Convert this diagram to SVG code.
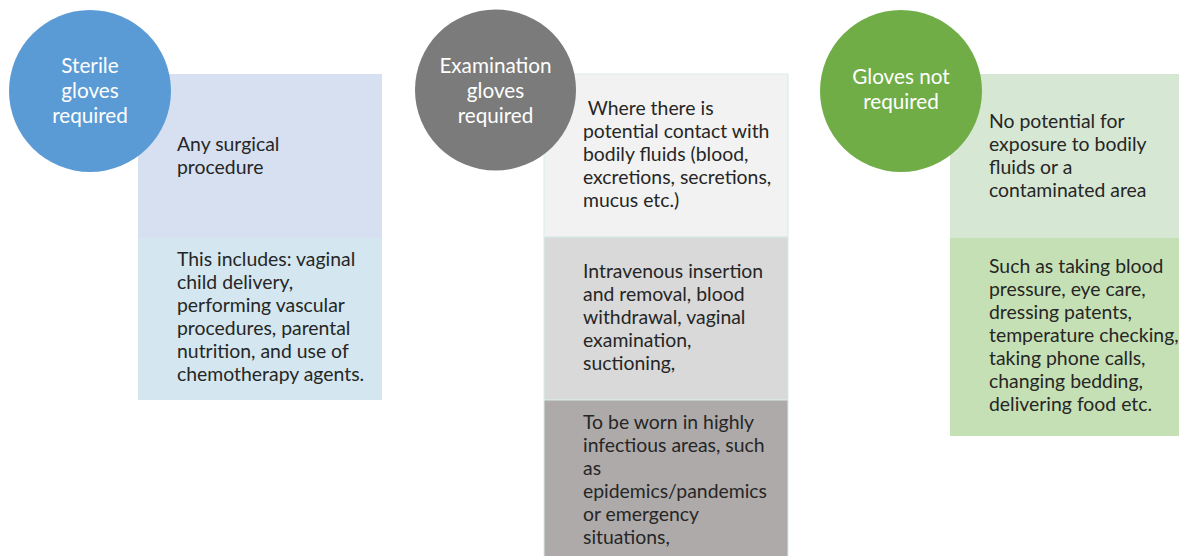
<svg xmlns="http://www.w3.org/2000/svg" width="1179" height="556" viewBox="0 0 1179 556">
<style>
.t{font-family:Lato,"Open Sans","Liberation Sans",sans-serif;font-size:19.4px;fill:#262626}
.c{font-family:Lato,"Open Sans","Liberation Sans",sans-serif;font-size:20.7px;fill:#ffffff;text-anchor:middle}
.ln{stroke:#d5ecea;stroke-width:1}
</style>
<rect width="1179" height="556" fill="#ffffff"/>
<g id="sterile">
<rect x="138" y="74" width="244" height="164" fill="#d6e0f1"/>
<rect x="138" y="238" width="244" height="162" fill="#d4e6ef"/>
<circle cx="90" cy="91" r="81" fill="#5b9bd5"/>
<text class="c"><tspan x="90" y="73">Sterile</tspan><tspan x="90" y="98">gloves</tspan><tspan x="90" y="123">required</tspan></text>
<text class="t"><tspan x="177" y="151">Any surgical</tspan><tspan x="177" y="174">procedure</tspan></text>
<text class="t"><tspan x="177" y="266">This includes: vaginal</tspan><tspan x="177" y="289">child delivery,</tspan><tspan x="177" y="312">performing vascular</tspan><tspan x="177" y="335">procedures, parental</tspan><tspan x="177" y="358">nutrition, and use of</tspan><tspan x="177" y="381">chemotherapy agents.</tspan></text>
</g>
<g id="examination">
<rect x="544" y="74" width="244" height="163" fill="#f2f2f2" class="ln"/>
<rect x="544" y="237" width="244" height="163" fill="#d9d9d9" class="ln"/>
<rect x="544" y="400" width="244" height="160" fill="#aeaaaa" class="ln"/>
<circle cx="495.5" cy="90" r="80.5" fill="#7b7b7b"/>
<text class="c"><tspan x="495.5" y="73">Examination</tspan><tspan x="495.5" y="98">gloves</tspan><tspan x="495.5" y="123">required</tspan></text>
<text class="t" xml:space="preserve"><tspan x="583" y="115"> Where there is</tspan><tspan x="583" y="138">potential contact with</tspan><tspan x="583" y="161">bodily fluids (blood,</tspan><tspan x="583" y="184">excretions, secretions,</tspan><tspan x="583" y="207">mucus etc.)</tspan></text>
<text class="t"><tspan x="583" y="278">Intravenous insertion</tspan><tspan x="583" y="301">and removal, blood</tspan><tspan x="583" y="324">withdrawal, vaginal</tspan><tspan x="583" y="347">examination,</tspan><tspan x="583" y="370">suctioning,</tspan></text>
<text class="t"><tspan x="583" y="429">To be worn in highly</tspan><tspan x="583" y="452">infectious areas, such</tspan><tspan x="583" y="475">as</tspan><tspan x="583" y="498">epidemics/pandemics</tspan><tspan x="583" y="521">or emergency</tspan><tspan x="583" y="544">situations,</tspan></text>
</g>
<g id="not-required">
<rect x="950" y="74" width="229" height="164" fill="#d6e7d4"/>
<rect x="950" y="238" width="229" height="198" fill="#c6e0b5"/>
<circle cx="901" cy="91" r="81" fill="#70ad47"/>
<text class="c"><tspan x="901" y="84">Gloves not</tspan><tspan x="901" y="109">required</tspan></text>
<text class="t"><tspan x="989" y="128">No potential for</tspan><tspan x="989" y="151">exposure to bodily</tspan><tspan x="989" y="174">fluids or a</tspan><tspan x="989" y="197">contaminated area</tspan></text>
<text class="t"><tspan x="989" y="273">Such as taking blood</tspan><tspan x="989" y="296">pressure, eye care,</tspan><tspan x="989" y="319">dressing patents,</tspan><tspan x="989" y="342">temperature checking,</tspan><tspan x="989" y="365">taking phone calls,</tspan><tspan x="989" y="388">changing bedding,</tspan><tspan x="989" y="411">delivering food etc.</tspan></text>
</g>
<g id="connectors"></g>
</svg>
